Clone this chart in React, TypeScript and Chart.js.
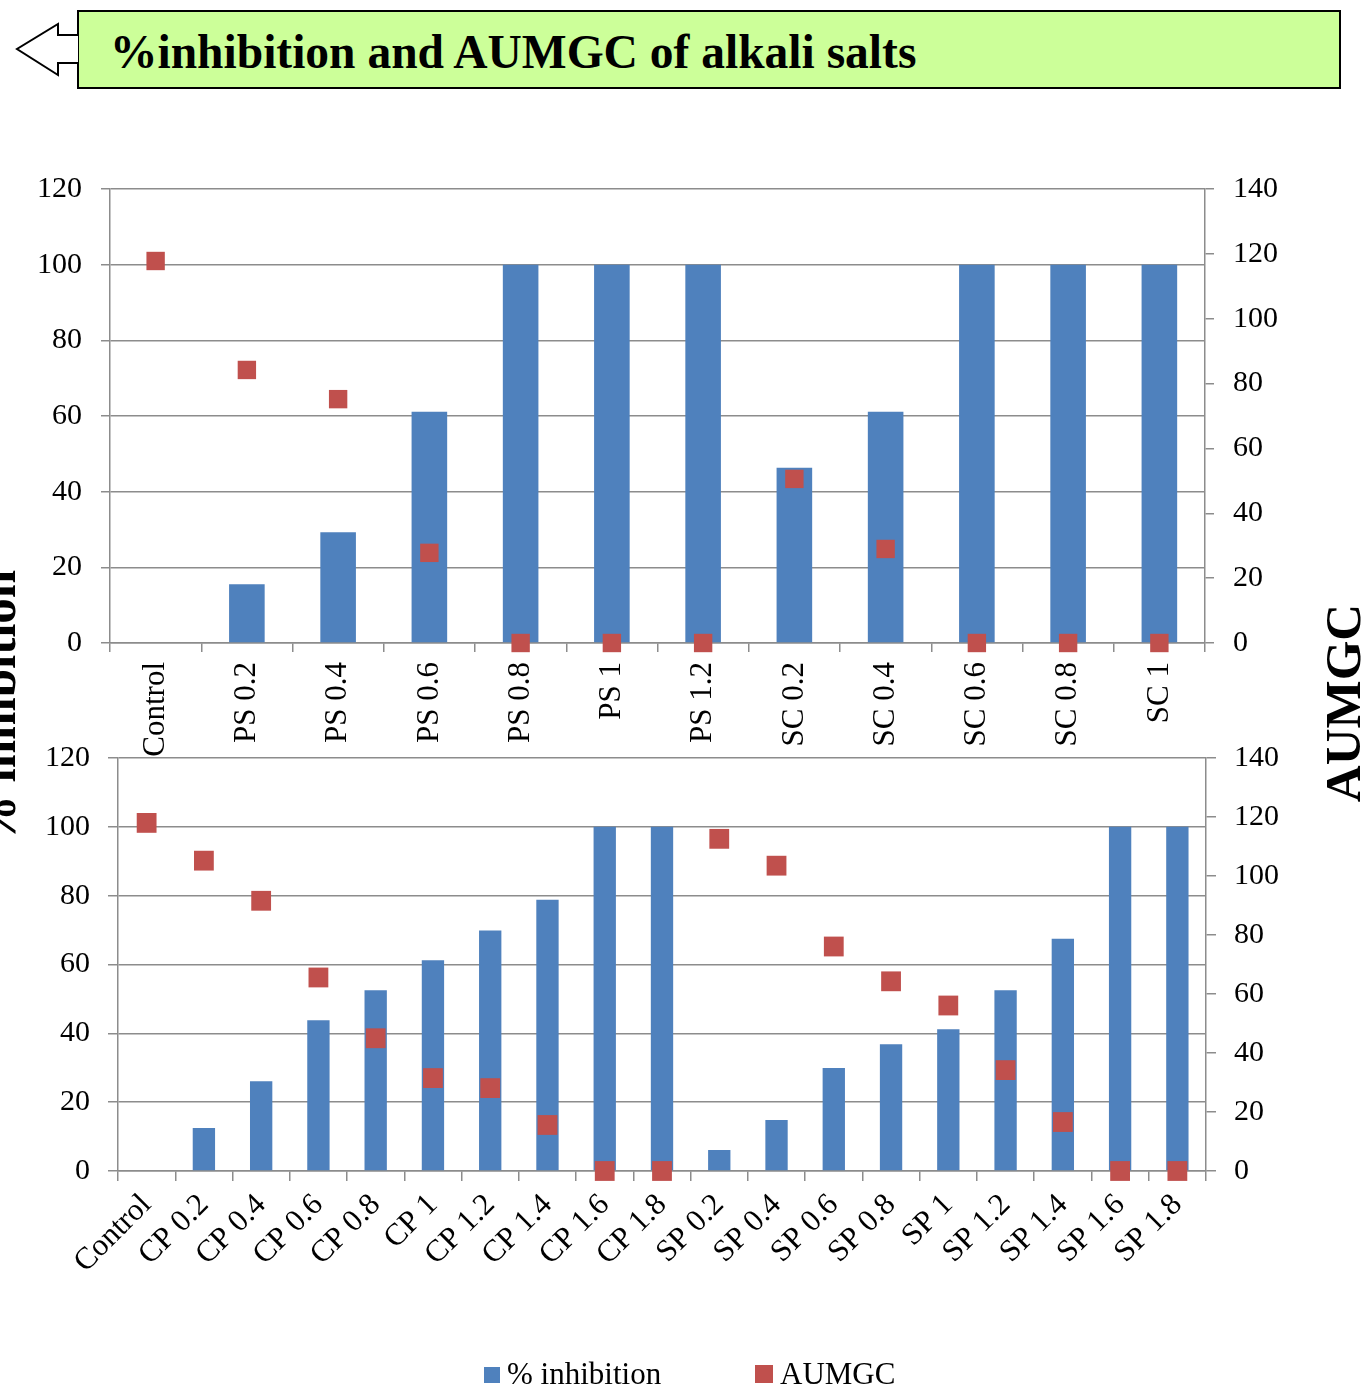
import React, { useEffect, useRef } from 'react';
import { Chart, registerables } from 'chart.js';

Chart.register(...registerables);

// ---------- data ----------
const topCategories = ['Control', 'PS 0.2', 'PS 0.4', 'PS 0.6', 'PS 0.8', 'PS 1', 'PS 1.2', 'SC 0.2', 'SC 0.4', 'SC 0.6', 'SC 0.8', 'SC 1'];
const topInhibition = [0, 15.5, 29.3, 61.1, 100, 100, 100, 46.3, 61.1, 100, 100, 100];
const topAumgc = [117.8, 84.2, 75.2, 27.8, 0, 0, 0, 50.6, 29.0, 0, 0, 0];

const bottomCategories = ['Control', 'CP 0.2', 'CP 0.4', 'CP 0.6', 'CP 0.8', 'CP 1', 'CP 1.2', 'CP 1.4', 'CP 1.6', 'CP 1.8', 'SP 0.2', 'SP 0.4', 'SP 0.6', 'SP 0.8', 'SP 1', 'SP 1.2', 'SP 1.4', 'SP 1.6', 'SP 1.8'];
const bottomInhibition = [0, 12.5, 26.1, 43.8, 52.5, 61.2, 69.9, 78.8, 100, 100, 6.1, 14.8, 29.9, 36.8, 41.2, 52.5, 67.5, 100, 100];
const bottomAumgc = [118.0, 105.2, 91.6, 65.6, 45.0, 31.5, 28.1, 15.6, 0, 0, 112.6, 103.5, 76.1, 64.3, 56.1, 34.2, 16.6, 0, 0];

const leftAxisMax = 120;
const rightAxisMax = 140;
const axisStep = 20;

const seriesNames = ['% inhibition', 'AUMGC'];
const titleText = '%inhibition and AUMGC of alkali salts';

// ---------- styles ----------
const FONT = "'Liberation Serif', 'Times New Roman', serif";
const BLUE = '#4F81BD';
const RED = '#C0504D';
const GRID = '#8c8c8c';

type Cfg = {
  labels: string[];
  bars: number[];
  points: number[];
  width: number;
  height: number;
  padTop: number;
  leftW: number;
  rightW: number;
  xH: number;
  rotation: number;
  xPad: number;
  tickLen: number;
  yPad: number;
  radius: number;
};

function makeChart(canvas: HTMLCanvasElement, c: Cfg) {
  return new Chart(canvas, {
    type: 'bar',
    data: {
      labels: c.labels,
      datasets: [
        {
          type: 'line',
          label: seriesNames[1],
          data: c.points,
          yAxisID: 'y1',
          showLine: false,
          pointStyle: 'rect',
          pointRadius: c.radius,
          pointBackgroundColor: RED,
          pointBorderColor: RED,
          pointBorderWidth: 0,
          clip: false,
          order: 0,
        } as any,
        {
          type: 'bar',
          label: seriesNames[0],
          data: c.bars,
          yAxisID: 'y',
          backgroundColor: BLUE,
          borderWidth: 0,
          barPercentage: 0.39,
          categoryPercentage: 1,
          order: 1,
        },
      ],
    },
    options: {
      responsive: false,
      animation: false,
      events: [],
      layout: { padding: { top: c.padTop, left: 0, right: 0, bottom: 0 } },
      plugins: { legend: { display: false }, tooltip: { enabled: false }, title: { display: false } },
      scales: {
        x: {
          type: 'category',
          offset: true,
          grid: { drawOnChartArea: false, drawTicks: true, tickLength: c.tickLen, color: GRID, lineWidth: 1.5, offset: true },
          border: { color: GRID, width: 1.5 },
          ticks: {
            autoSkip: false,
            minRotation: c.rotation,
            maxRotation: c.rotation,
            padding: c.xPad,
            color: '#000',
            font: { family: FONT, size: 31 },
          },
          afterFit: (s: any) => { s.height = c.xH; },
        },
        y: {
          position: 'left',
          min: 0,
          max: leftAxisMax,
          grid: { drawOnChartArea: true, drawTicks: true, tickLength: c.tickLen, color: GRID, lineWidth: 1.5 },
          border: { color: GRID, width: 1.5 },
          ticks: { stepSize: axisStep, padding: c.yPad, color: '#000', font: { family: FONT, size: 30 } },
          afterFit: (s: any) => { s.width = c.leftW; },
        },
        y1: {
          position: 'right',
          min: 0,
          max: rightAxisMax,
          grid: { drawOnChartArea: false, drawTicks: true, tickLength: c.tickLen, color: GRID, lineWidth: 1.5 },
          border: { color: GRID, width: 1.5 },
          ticks: { stepSize: axisStep, padding: c.yPad, color: '#000', font: { family: FONT, size: 30 } },
          afterFit: (s: any) => { s.width = c.rightW; },
        },
      },
    } as any,
  });
}

function ChartCanvas({ cfg, left, top }: { cfg: Cfg; left: number; top: number }) {
  const ref = useRef<HTMLCanvasElement | null>(null);
  useEffect(() => {
    if (!ref.current) return;
    const ch = makeChart(ref.current, cfg);
    return () => ch.destroy();
  }, []);
  return (
    <canvas
      ref={ref}
      width={cfg.width}
      height={cfg.height}
      style={{ position: 'absolute', left, top, width: cfg.width, height: cfg.height }}
    />
  );
}

const topCfg: Cfg = {
  labels: topCategories,
  bars: topInhibition,
  points: topAumgc,
  width: 1370,
  height: 620,
  padTop: 39,
  leftW: 110,
  rightW: 165,
  xH: 620 - 493,
  rotation: 90,
  xPad: 10,
  tickLen: 9,
  yPad: 19,
  radius: 13,
};

const bottomCfg: Cfg = {
  labels: bottomCategories,
  bars: bottomInhibition,
  points: bottomAumgc,
  width: 1370,
  height: 640,
  padTop: 58,
  leftW: 118,
  rightW: 164,
  xH: 640 - 471,
  rotation: 45,
  xPad: 6,
  tickLen: 10,
  yPad: 18,
  radius: 14,
};

export default function App() {
  return (
    <div style={{ position: 'absolute', left: 0, top: 0, width: 1370, height: 1390, background: '#fff', overflow: 'hidden' }}>
      <ChartCanvas cfg={topCfg} left={0} top={150} />
      <ChartCanvas cfg={bottomCfg} left={0} top={700} />
      <svg
        width={1370}
        height={1390}
        style={{ position: 'absolute', left: 0, top: 0, pointerEvents: 'none' }}
      >
        <rect x={78} y={11} width={1262} height={77} fill="#ccff99" stroke="#000" strokeWidth={2} />
        <path d="M78,35 L58,35 L58,24 L17,49 L58,75 L58,63 L78,63" fill="#fff" stroke="#000" strokeWidth={2} />
        <text x={110} y={68} fontFamily={FONT} fontWeight="bold" fontSize={47.5} fill="#000">{titleText}</text>

        <text transform="translate(15,708) rotate(-90)" textAnchor="middle" fontFamily={FONT} fontWeight="bold" fontSize={51} fill="#000">% inhibition</text>
        <text transform="translate(1360,703) rotate(-90)" textAnchor="middle" fontFamily={FONT} fontWeight="bold" fontSize={51} fill="#000">AUMGC</text>

        <rect x={484} y={1367} width={16} height={16} fill={BLUE} />
        <text x={507} y={1384} fontFamily={FONT} fontSize={31} fill="#000">{seriesNames[0]}</text>
        <rect x={755} y={1365} width={18} height={18} fill={RED} />
        <text x={780} y={1384} fontFamily={FONT} fontSize={31} fill="#000">{seriesNames[1]}</text>
      </svg>
    </div>
  );
}
